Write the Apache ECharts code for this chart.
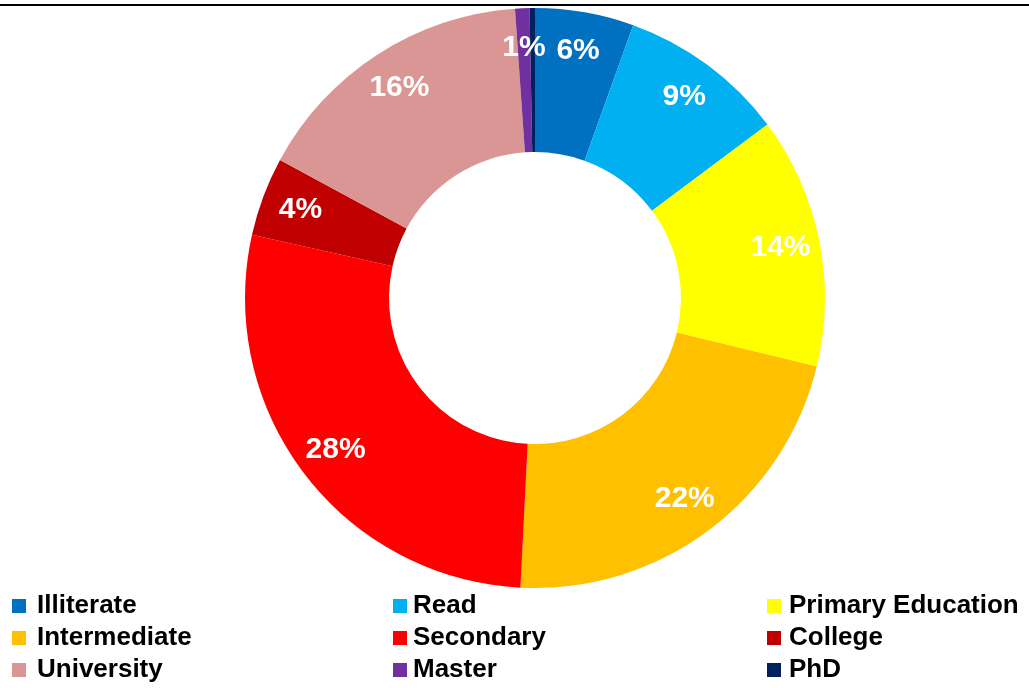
<!DOCTYPE html>
<html>
<head>
<meta charset="utf-8">
<script src="https://cdn.jsdelivr.net/npm/echarts@6/dist/echarts.min.js"></script>
<style>
html,body{margin:0;padding:0;background:#fff;}
#chart{width:1029px;height:688px;}
</style>
</head>
<body>
<div id="chart"></div>
<script>
// ---- data ----
const categories = ['Illiterate','Read','Primary Education','Intermediate','Secondary','College','University','Master','PhD'];
const shares = [5.5, 9.3, 14.0, 22.0, 27.7, 4.4, 16.0, 0.8, 0.3];
const colors = ['#0070C0','#00B0F0','#FFFF00','#FFC000','#FF0000','#C00000','#DA9694','#7030A0','#002060'];
const legendCol1 = ['Illiterate','Intermediate','University'];
const legendCol2 = ['Read','Secondary','Master'];
const legendCol3 = ['Primary Education','College','PhD'];

const FONT = '"Liberation Sans Narrow","Arial Narrow","Liberation Sans",Arial,sans-serif';

const mainData = categories.map((c,i)=>({name:c,value:shares[i],itemStyle:{color:colors[i]}}));
const labelData = categories.map((c,i)=>({name:c,value:shares[i]}));

function legendFor(names, left, gap){
  return {
    orient:'vertical', left:left, top:590, height:110, padding:0,
    itemWidth:14, itemHeight:14, itemGap:0,
    icon:'rect', selectedMode:false,
    data:names.map(n=>({name:n, itemStyle:{color:colors[categories.indexOf(n)]}})),
    textStyle:{fontFamily:FONT, fontWeight:'bold', fontSize:26, color:'#000', lineHeight:32, padding:[0,0,0,gap]}
  };
}

const chart = echarts.init(document.getElementById('chart'));
chart.setOption({
  backgroundColor:'#fff',
  animation:false,
  legend:[legendFor(legendCol1,12,6), legendFor(legendCol2,393,1), legendFor(legendCol3,767,3)],
  graphic:[{type:'line', shape:{x1:0,y1:5,x2:1029,y2:5}, style:{stroke:'#000',lineWidth:2}}],
  series:[
    {
      type:'pie', center:[535,298], radius:[146,290], startAngle:90, clockwise:true,
      avoidLabelOverlap:false, label:{show:false}, labelLine:{show:false},
      emphasis:{disabled:true}, silent:true,
      data:mainData
    },
    {
      type:'pie', center:[535,298], radius:[205,290], startAngle:90, clockwise:true,
      avoidLabelOverlap:false, silent:true, emphasis:{disabled:true},
      itemStyle:{color:'rgba(0,0,0,0)'},
      labelLine:{show:false},
      label:{
        show:true, position:'inside', color:'#fff', fontFamily:FONT, fontWeight:'bold', fontSize:30,
        formatter:p=>{const r=Math.round(p.value); return r>0 ? r+'%' : '';}
      },
      data:labelData
    }
  ]
});
</script>
</body>
</html>
